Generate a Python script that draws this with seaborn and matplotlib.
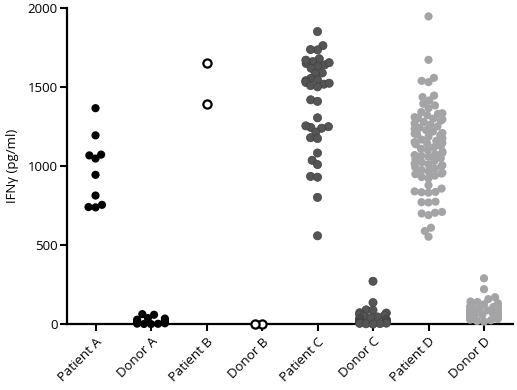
import numpy as np
import pandas as pd
import matplotlib
matplotlib.use("Agg")
import matplotlib.pyplot as plt
import seaborn as sns
from seaborn.categorical import Beeswarm

categories = ["Patient A", "Donor A", "Patient B", "Donor B",
              "Patient C", "Donor C", "Patient D", "Donor D"]

patient_a = [1367, 1195, 1068, 1048, 1073, 945, 814, 755, 739, 741]
donor_a = [63, 59, 38, 35, 28, 22, 17, 12, 8, 5, 3, 2, 0, 1, 10, 15]
patient_b = [1652, 1391]
donor_b = [0, 2]
patient_c = [1852, 1763, 1736, 1738, 1680, 1662, 1650, 1671, 1641, 1632, 1655,
             1620, 1590, 1586, 1555, 1541, 1530, 1519, 1546, 1510, 1502, 1525,
             1420, 1410, 1306, 1250, 1245, 1240, 1255, 1216, 1180, 1175, 1083,
             1037, 1010, 935, 930, 802, 559]
donor_c = [271, 136, 90, 88, 72, 70, 60, 55, 50, 45, 40, 35, 30, 28, 25, 20,
           15, 12, 10, 8, 6, 5, 3, 2, 0]
patient_d = [1948, 1673, 1559, 1532, 1540, 1447, 1437, 1416, 1384, 1395, 1367,
             1342, 1335, 1331, 1322, 1310, 1304, 1300, 1296, 1288, 1279, 1270,
             1262, 1251, 1243, 1236, 1228, 1219, 1210, 1206, 1201, 1195, 1186,
             1177, 1168, 1160, 1152, 1147, 1143, 1138, 1129, 1120, 1110, 1101,
             1092, 1084, 1075, 1070, 1066, 1059, 1050, 1041, 1033, 1024, 1015,
             1010, 1005, 1000, 992, 984, 975, 966, 958, 953, 949, 940, 931, 922,
             879, 858, 840, 835, 832, 837, 775, 770, 772, 710, 700, 690, 705,
             610, 589, 553]
donor_d = [290, 221, 170, 158, 143, 140, 132, 125, 118, 112, 108, 102, 98, 95,
           90, 87, 84, 80, 77, 74, 70, 67, 64, 60, 57, 54, 50, 47, 44, 40, 36,
           32, 28, 24, 20, 16]

series = [patient_a, donor_a, patient_b, donor_b,
          patient_c, donor_c, patient_d, donor_d]
colors = ["#000000", "#000000", "#000000", "#000000",
          "#555555", "#555555", "#a4a4a6", "#a4a4a6"]
swarm_widths = [0.5, 0.5, 0.5, 0.5, 0.42, 0.48, 0.5, 0.5]
open_groups = ["Patient B", "Donor B"]

df = pd.DataFrame({
    "group": np.concatenate([[c] * len(s) for c, s in zip(categories, series)]),
    "value": np.concatenate([np.asarray(s, float) for s in series]),
})

sns.set_style("white")
plt.rcParams["font.family"] = ["Open Sans", "DejaVu Sans"]
for key in ["text.color", "axes.labelcolor", "xtick.color", "ytick.color"]:
    plt.rcParams[key] = "black"

fig = plt.figure(figsize=(5.17, 3.90), dpi=100)
ax = fig.add_axes([0.130, 0.169, 0.862, 0.810])

palette = dict(zip(categories, colors))
layout_size = 4.8   # packing size (GraphPad-like overlap)
marker_size = 5.9   # displayed size
sns.swarmplot(data=df, x="group", y="value", hue="group", order=categories,
              hue_order=categories, palette=palette, size=layout_size,
              linewidth=0, legend=False, ax=ax, warn_thresh=1.0)

ax.set_xlim(-0.51, 7.52)
ax.set_ylim(0, 2000)

# seaborn's own beeswarm layout, with a narrower swarm width
for coll in ax.collections:
    if "draw" in coll.__dict__:
        del coll.draw
    offs = coll.get_offsets()
    if len(offs) == 0:
        continue
    idx = int(round(float(np.mean(offs[:, 0]))))
    if len(offs) > 1:
        Beeswarm(width=swarm_widths[idx], orient="x", warn_thresh=1.0)(coll, idx)
    coll.set_sizes([marker_size ** 2])
    name = categories[idx]
    coll.set_clip_on(False)
    if name in open_groups:
        coll.set_facecolor("white")
        coll.set_edgecolor("black")
        coll.set_linewidth(1.6)
    elif colors[idx] == "#555555":
        coll.set_edgecolor("#404040")
        coll.set_linewidth(0.5)

ax.set_yticks([0, 500, 1000, 1500, 2000])
ax.set_xlabel("")
ax.set_ylabel("IFNγ (pg/ml)", fontsize=9.5, labelpad=6)
ax.set_xticks(range(len(categories)))
ax.set_xticklabels(categories, rotation=45, ha="right", rotation_mode="anchor",
                   fontsize=9.5)
ax.tick_params(axis="y", labelsize=9.5, length=5, width=1.5, direction="out",
               left=True, pad=2)
ax.tick_params(axis="x", length=5, width=1.5, direction="out", bottom=True, pad=3)
for side in ["top", "right"]:
    ax.spines[side].set_visible(False)
for side in ["left", "bottom"]:
    ax.spines[side].set_color("black")
    ax.spines[side].set_linewidth(1.6)

fig.savefig("out.png", dpi=100)
